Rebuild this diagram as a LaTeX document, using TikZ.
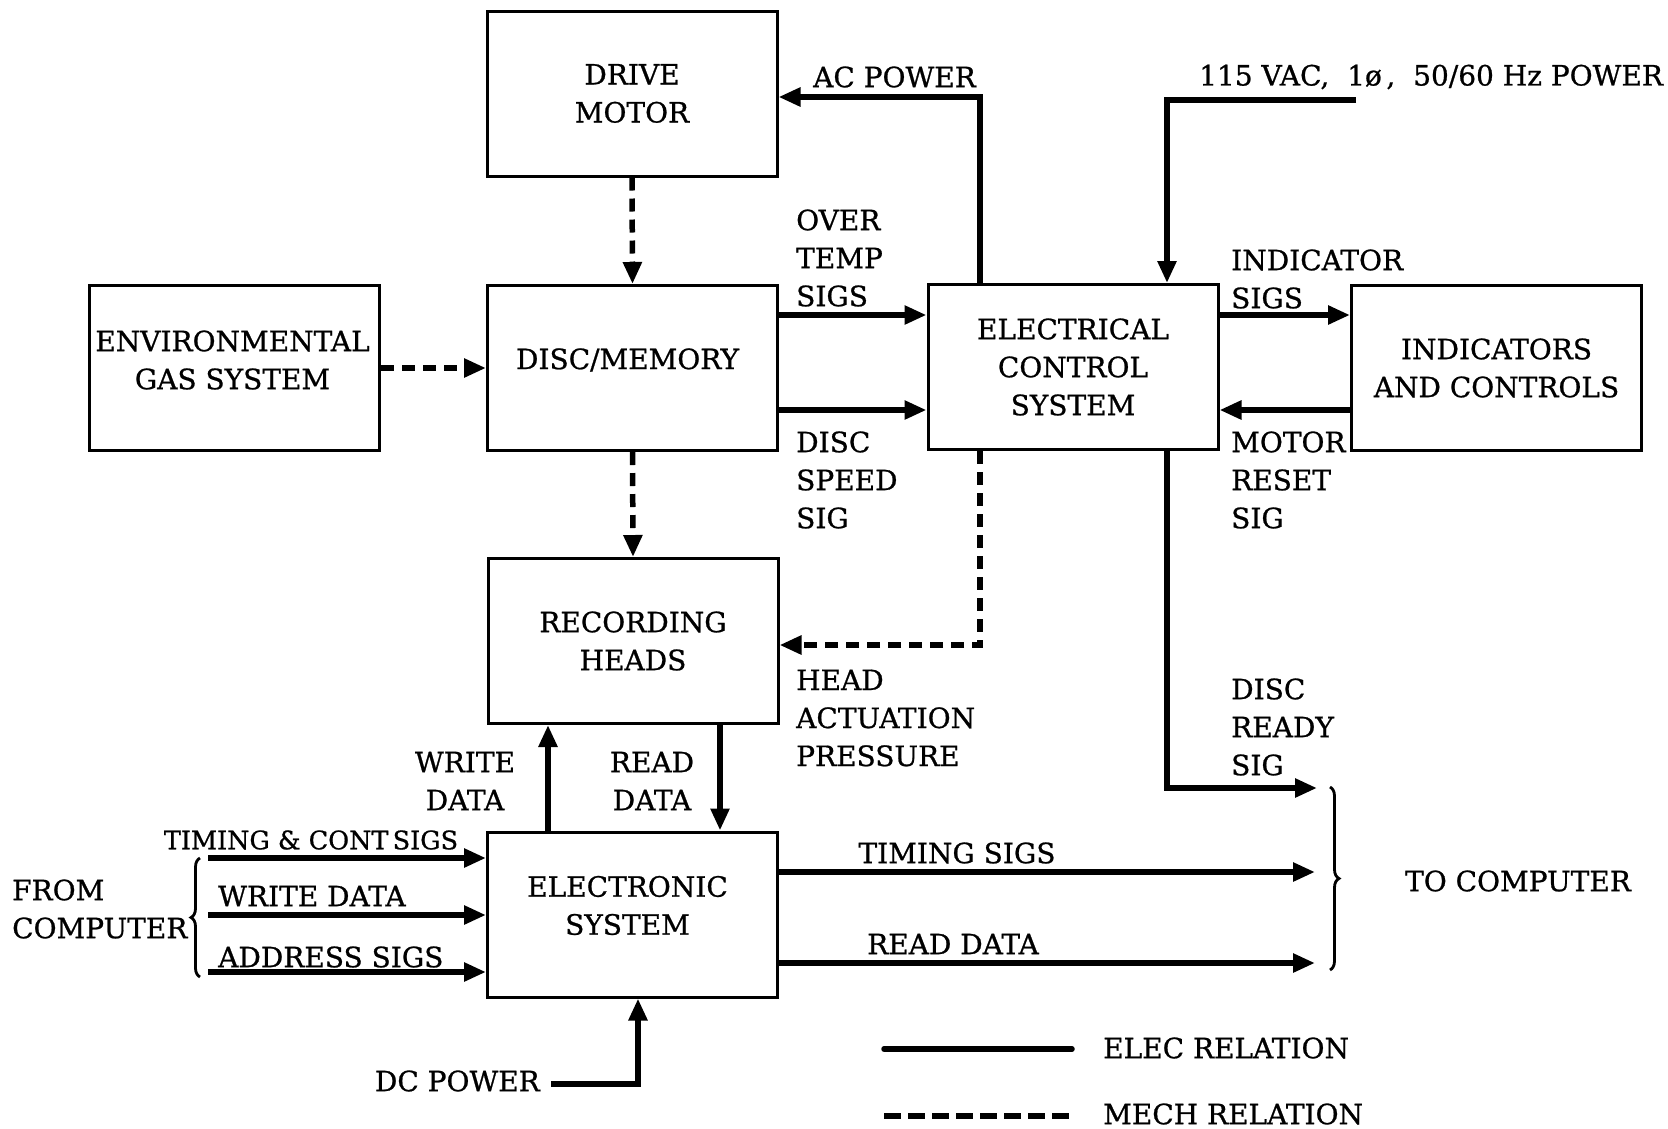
\documentclass[tikz,border=0pt]{standalone}
\usepackage{fontspec}
\setmainfont{DejaVu Serif}[FakeBold=0.8]
\usetikzlibrary{arrows.meta,decorations.pathreplacing,calc}
\begin{document}
\begin{tikzpicture}[x=1pt,y=-1pt,
  every node/.style={font=\fontsize{28pt}{38pt}\selectfont, inner sep=0pt},
  blk/.style={draw, line width=3pt, minimum width=290pt, minimum height=165pt, align=center},
  lbl/.style={align=left, anchor=west},
  elec/.style={line width=5.5pt, -{Triangle[length=22pt,width=18pt]}},
  mech/.style={line width=5.5pt, dash pattern=on 13pt off 8pt, -{Triangle[length=22pt,width=18pt]}},
  brc/.style={line width=2.8pt, decorate, decoration={brace, amplitude=9pt}},
]
\fill[white] (0,0) rectangle (1668,1128);
\useasboundingbox (0,0) rectangle (1668,1128);

% blocks
\node[blk] (motor) at (632,93.5) {DRIVE\\MOTOR};
\node[blk] (disc) at (632.5,368) {};
\node[align=center] (disct) at ([xshift=-5pt,yshift=8pt]disc.center) {DISC/MEMORY};
\node[blk] (env) at (234.5,368) {};
\node[align=center] (envt) at ([xshift=-2pt,yshift=8pt]env.center) {ENVIRONMENTAL\\GAS SYSTEM};
\node[blk] (ecs) at (1073,367) {ELECTRICAL\\CONTROL\\SYSTEM};
\node[blk] (ind) at (1496.5,368) {INDICATORS\\AND CONTROLS};
\node[blk] (heads) at (633,641) {RECORDING\\HEADS};
\node[blk] (elsys) at (632.5,914.5) {};
\node[align=center] (elsyst) at ([xshift=-5pt,yshift=9pt]elsys.center) {ELECTRONIC\\SYSTEM};

% labels
\node[lbl] (acp) at (813,77) {AC POWER};
\node[lbl] (ots) at (796,258) {OVER\\TEMP\\SIGS};
\node[lbl] (dss) at (796,480) {DISC\\SPEED\\SIG};
\node[lbl] (isg) at (1231,279) {INDICATOR\\SIGS};
\node[lbl] (mrs) at (1231,480) {MOTOR\\RESET\\SIG};
\node[lbl] (hap) at (796,718) {HEAD\\ACTUATION\\PRESSURE};
\node[lbl] (drs) at (1231,727) {DISC\\READY\\SIG};
\node[align=center] (wd) at (465,781) {WRITE\\DATA};
\node[align=center] (rd) at (652,781) {READ\\DATA};
\node (ts) at (957,853) {TIMING SIGS};
\node (rd2) at (953,944) {READ DATA};
\node (toc) at (1518,881) {TO COMPUTER};
\node[lbl] (fromc) at (12,909) {FROM\\COMPUTER};
\node[font=\fontsize{25.5pt}{30pt}\selectfont] (tcs) at (311,840) {TIMING \& CONT\,SIGS};
\node[lbl] (wdi) at (218,896) {WRITE DATA};
\node[lbl] (adr) at (218,957) {ADDRESS SIGS};
\node[anchor=east] (dcp) at (540,1081) {DC POWER};
\node[lbl] (elr) at (1103,1048) {ELEC RELATION};
\node[lbl] (mer) at (1103,1114) {MECH RELATION};
\node[lbl] (vac) at (1199,77) {115 VAC,\ \ 1ø\,,\ \ 50/60 Hz POWER};

% free ends
\coordinate (vacin) at (1356,100);
\coordinate (drdy) at (1317,788);
\coordinate (tsout) at (1315,872);
\coordinate (rdout) at (1315,963);
\coordinate (in1) at (208,858);
\coordinate (in2) at (208,915);
\coordinate (in3) at (208,972);
\coordinate (dcin) at (551,1084);
\coordinate (l1a) at (884,1049);
\coordinate (l1b) at (1072,1049);
\coordinate (l2a) at (884,1116);
\coordinate (l2b) at (1072,1116);

% connectors
\draw[mech] (motor.south) -- (disc.north);
\draw[mech] (env.east) -- (disc.west);
\draw[mech] (disc.south) -- (heads.north);
\draw[elec] (disc.east |- 0,315) -- (ecs.west |- 0,315);
\draw[elec] (disc.east |- 0,410) -- (ecs.west |- 0,410);
\draw[elec] (ecs.north -| 980,0) |- (motor.east |- 0,97);
\draw[elec] (vacin) -| (ecs.north -| 1167,0);
\draw[elec] (ecs.east |- 0,315) -- (ind.west |- 0,315);
\draw[elec] (ind.west |- 0,410) -- (ecs.east |- 0,410);
\draw[mech] (ecs.south -| 980,0) |- (heads.east |- 0,645);
\draw[elec] (ecs.south -| 1167,0) |- (drdy);
\draw[elec] (elsys.north -| 548,0) -- (heads.south -| 548,0);
\draw[elec] (heads.south -| 720,0) -- (elsys.north -| 720,0);
\draw[elec] (elsys.east |- tsout) -- (tsout);
\draw[elec] (elsys.east |- rdout) -- (rdout);
\draw[elec] (in1) -- (elsys.west |- in1);
\draw[elec] (in2) -- (elsys.west |- in2);
\draw[elec] (in3) -- (elsys.west |- in3);
\draw[elec] (dcin) -| (elsys.south -| 638,0);

% braces
\draw[brc] (200,977) -- (200,858);
\draw[brc] (1330,787) -- (1330,970);

% legend
\draw[line width=5.5pt, line cap=round] (l1a) -- (l1b);
\draw[line width=5.5pt, dash pattern=on 17pt off 7pt] (l2a) -- (l2b);
\end{tikzpicture}
\end{document}
